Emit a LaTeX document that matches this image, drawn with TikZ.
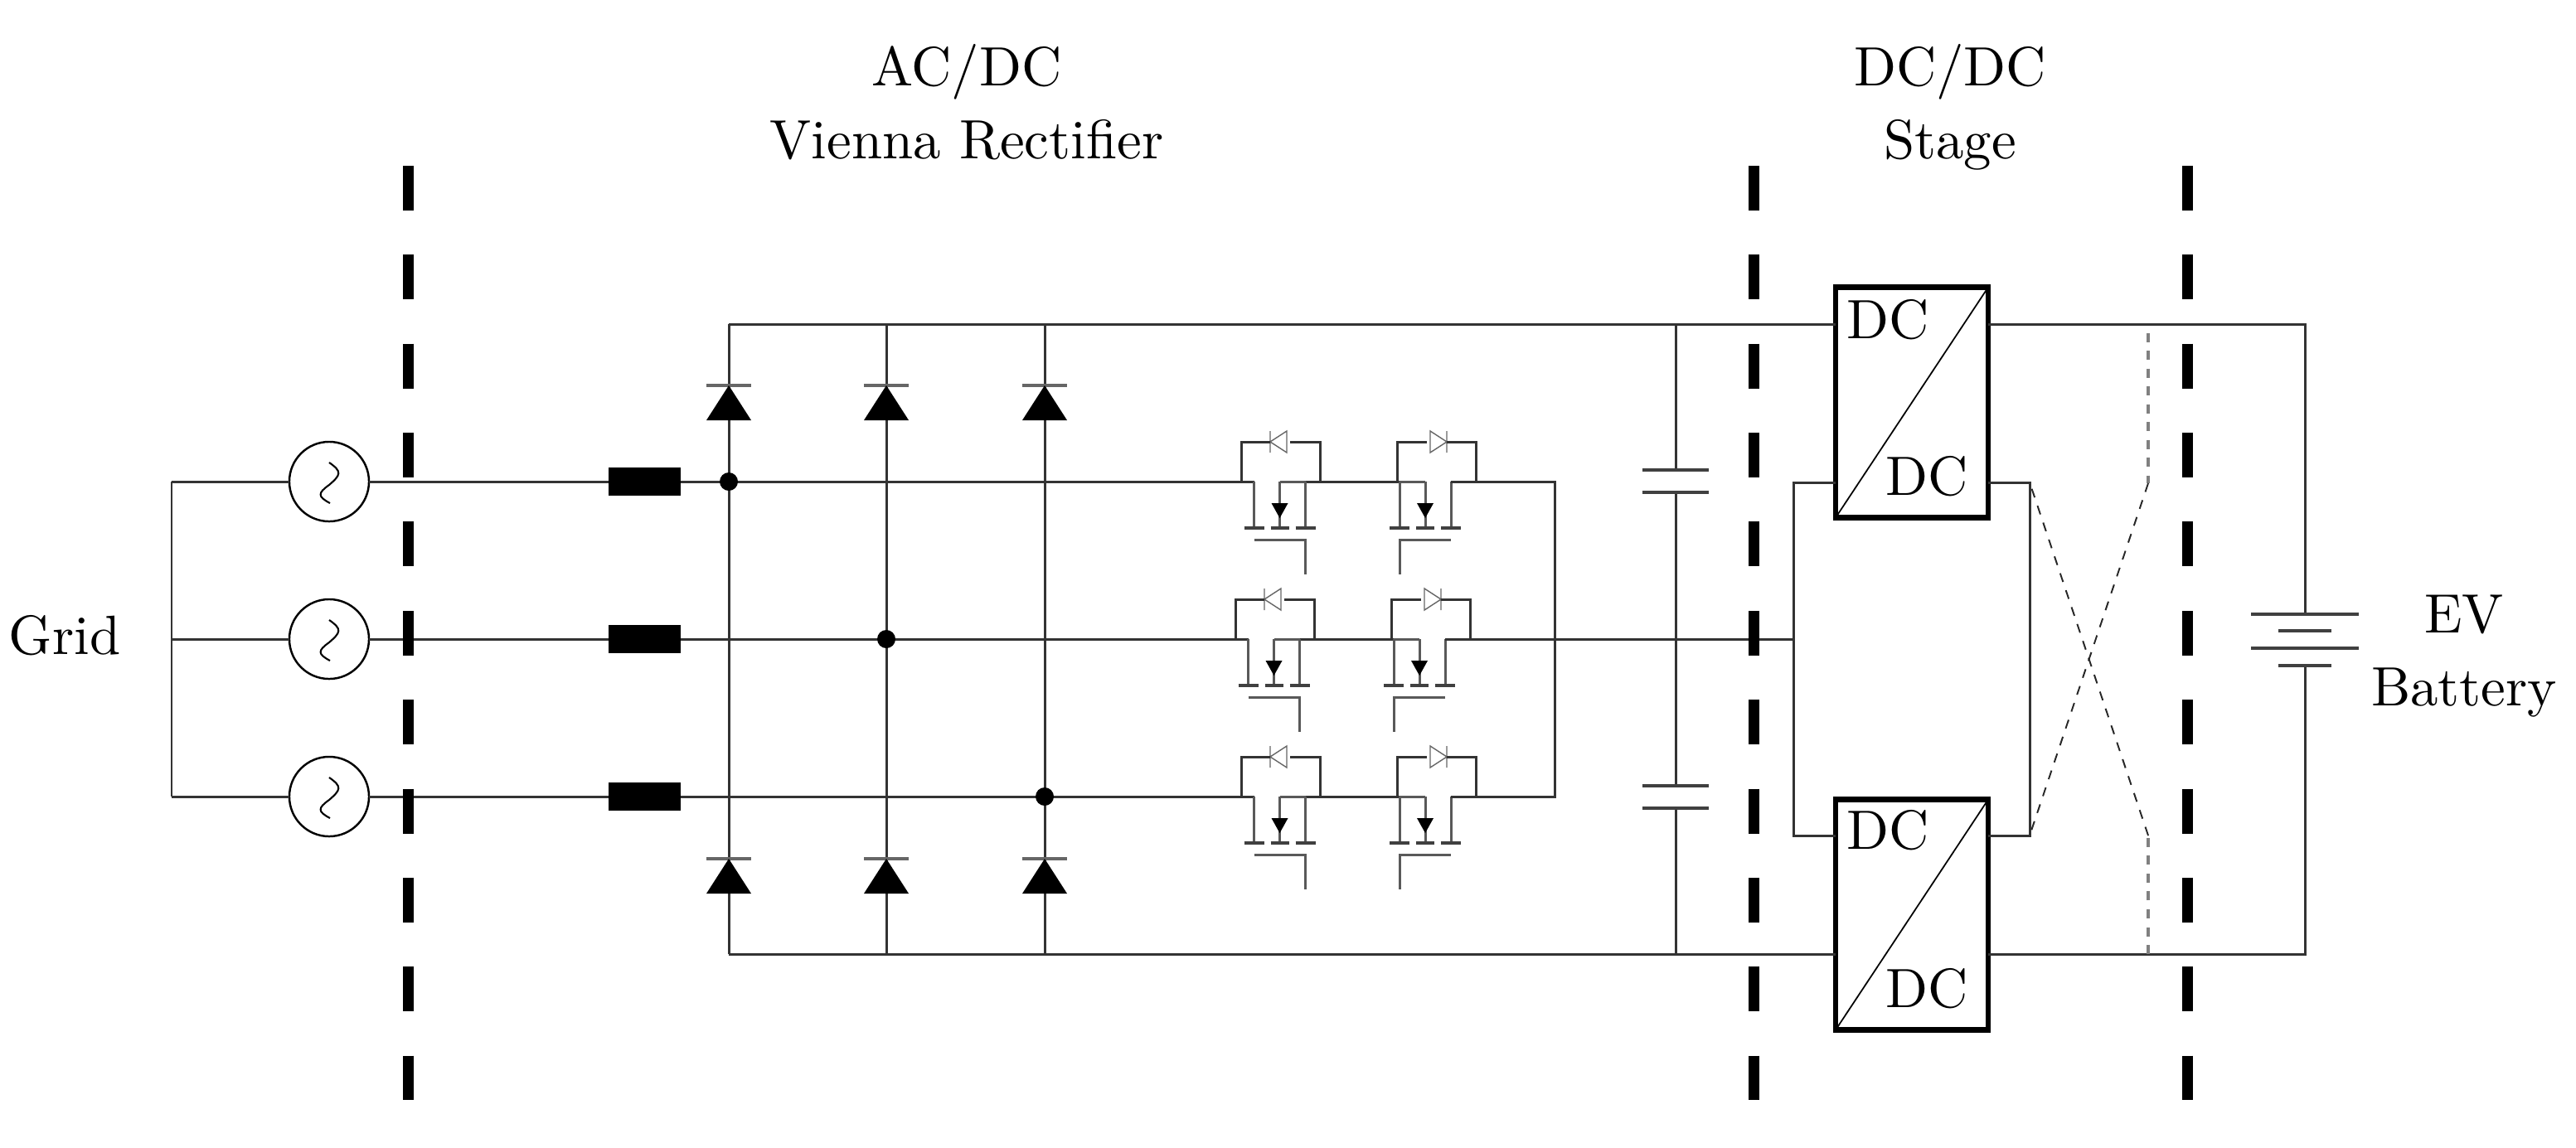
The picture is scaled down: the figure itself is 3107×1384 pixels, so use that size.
\documentclass[tikz,border=0pt]{standalone}
\usepackage{tikz}

\font\capfont="[lmroman10-regular.otf]" at 19pt

\tikzset{
    wire/.style={line width=0.85pt, black!80},
    plate/.style={line width=1.1pt, black!75},
    sepline/.style={line width=3.7pt, dash pattern=on 0.54cm off 0.533cm},
    xline/.style={line width=0.55pt, black!85, dash pattern=on 0.11cm off 0.105cm},
    xlinev/.style={line width=0.95pt, black!50, dash pattern=on 0.11cm off 0.105cm},
    label/.style={font=\fontsize{19}{25}\selectfont\capfont, inner sep=0pt, align=center},
    acsrc/.style={draw, fill=white, circle, line width=0.7pt, minimum size=0.96cm, inner sep=0pt, outer sep=0pt},
    choke/.style={fill=black, minimum width=0.87cm, minimum height=0.34cm, inner sep=0pt, outer sep=0pt},
    joint/.style={fill=black, circle, minimum size=0.22cm, inner sep=0pt},
    dcbox/.style={draw, fill=white, line width=1.85pt, minimum width=1.84cm, minimum height=2.78cm, inner sep=0pt, outer sep=0pt},
    pics/acwave/.style={code={
        \draw[line width=0.6pt] (0,-23) .. controls (16,-12) and (14,-8) .. (0,4)
            .. controls (-14,14) and (-14,18) .. (1,26);
    }},
    pics/railpair/.style={code={
        \draw[line width=1pt, black!60] (-27,0) -- (27,0);
        \fill (-27,42) -- (27,42) -- (0,0) -- cycle;
    }},
    pics/fetbody/.style={code={
        \draw[wire, black!65] (0,0) -- (31,0) (-31,0) -- (-31,56) (31,0) -- (31,56) (0,0) -- (0,56);
        \fill (-10,26) -- (10,26) -- (0,44) -- cycle;
        \draw[plate] (-43,56) -- (-19,56) (-11,56) -- (11,56) (19,56) -- (43,56);
        \draw[wire, black!65] (-31,70) -- (31,70) -- (31,112);
    }},
    pics/fetdiode/.style={code={
        \draw[line width=0.4pt, black!60] (0,-13) -- (0,13) (0,0) -- (20,-13) -- (20,13) -- cycle;
    }},
}

\begin{document}
\begin{tikzpicture}[x=0.01cm, y=-0.01cm]
    \useasboundingbox (0,0) rectangle (3107,1384);

    % Rail points of the rectifier legs
    \foreach \n/\x in {1/879, 2/1069, 3/1260} {
        \coordinate (railT\n) at (\x,391);
        \coordinate (railB\n) at (\x,1151);
        \draw[wire] (railT\n) -- (railB\n);
        \pic at (\x,465) {railpair};
        \pic at (\x,1036) {railpair};
    }

    % DC/DC stage
    \node[dcbox] (dcA) at (2306,485.5) {};
    \node[dcbox] (dcB) at (2306,1103.5) {};
    \draw[line width=0.5pt] (dcA.south west) -- (dcA.north east);
    \draw[line width=0.5pt] (dcB.south west) -- (dcB.north east);
    \node[label, anchor=base] (dcAin) at (2277,408) {DC};
    \node[label, anchor=base] (dcAout) at (2324,597) {DC};
    \node[label, anchor=base] (dcBin) at (2277,1024) {DC};
    \node[label, anchor=base] (dcBout) at (2324,1215) {DC};

    % Battery
    \coordinate (batT) at (2780,741);
    \coordinate (batB) at (2780,803);
    \coordinate (cornerT) at (2780,391);
    \coordinate (cornerB) at (2780,1151);
    \draw[wire] (railT1) -- (dcA.west |- railT1);
    \draw[wire] (dcA.east |- railT1) -- (cornerT) -- (batT);
    \draw[wire] (railB1) -- (dcB.west |- railB1);
    \draw[wire] (dcB.east |- railB1) -- (cornerB) -- (batB);
    \draw[plate] (2715,741) -- (2845,741);
    \draw[plate] (2748,761) -- (2812,761);
    \draw[plate] (2715,782) -- (2845,782);
    \draw[plate] (2748,803) -- (2812,803);

    % Capacitors
    \coordinate (capT) at (2021,391);
    \coordinate (capB) at (2021,1151);
    \draw[wire] (capT) -- (2021,567);
    \draw[wire] (2021,594) -- (2021,948);
    \draw[wire] (2021,975) -- (capB);
    \foreach \y in {567, 594, 948, 975} {
        \draw[plate] (1981,\y) -- (2061,\y);
    }

    % Inner buses of the DC/DC stage
    \coordinate (busLT) at (2163,582);
    \coordinate (busLB) at (2163,1008);
    \coordinate (busRT) at (2448,582);
    \coordinate (busRB) at (2448,1008);
    \draw[wire] (dcA.west |- busLT) -- (busLT) -- (busLB) -- (dcB.west |- busLB);
    \draw[wire] (dcA.east |- busRT) -- (busRT) -- (busRB) -- (dcB.east |- busRB);

    % Crossed output paths
    \coordinate (crossT) at (2591,391);
    \coordinate (crossB) at (2591,1151);
    \coordinate (kneeT) at (2591,583);
    \coordinate (kneeB) at (2591,1008);
    \draw[xlinev, dash phase=0.11cm] (crossT) -- (kneeT);
    \draw[xline] (kneeT) -- (busRB);
    \draw[xlinev] (crossB) -- (kneeB);
    \draw[xline] (kneeB) -- (busRT);

    % Grid phases with sources, chokes and switches
    \coordinate (gridT) at (207,581);
    \coordinate (gridB) at (207,961);
    \draw[wire] (gridT) -- (gridB);
    \foreach \i/\rowy/\dx/\x in {1/581/0/879, 2/771/-7/1069, 3/961/0/1260} {
        \coordinate (grid\i) at (207,\rowy);
        \node[acsrc] (src\i) at (397,\rowy) {};
        \pic at (src\i) {acwave};
        \node[choke] (ind\i) at (777.5,\rowy) {};
        \coordinate (fetL\i) at (1512.5+\dx,\rowy);
        \coordinate (fetM\i) at (1574.5+\dx,\rowy);
        \coordinate (fetN\i) at (1688+\dx,\rowy);
        \draw[wire] (grid\i) -- (src\i);
        \draw[wire] (src\i) -- (ind\i);
        \draw[wire] (ind\i) -- (fetL\i);
        \draw[wire] (fetM\i) -- (fetN\i);
        \node[joint] (dot\i) at (\x,\rowy) {};

        % Switch pair of this phase
        \begin{scope}[shift={(\dx,\rowy)}]
            \pic at (1543.5,0) {fetbody};
            \pic[xscale=-1] at (1719,0) {fetbody};
            \pic at (1532,-48) {fetdiode};
            \pic[xscale=-1] at (1745,-48) {fetdiode};
            \draw[wire] (1497,0) -- (1497,-48) -- (1532,-48);
            \draw[wire] (1556,-48) -- (1592,-48) -- (1592,0);
            \draw[wire] (1685,0) -- (1685,-48) -- (1721,-48);
            \draw[wire] (1745,-48) -- (1780,-48) -- (1780,0);
        \end{scope}
    }

    % Switch outputs
    \coordinate (midT) at (1875,581);
    \coordinate (midB) at (1875,961);
    \draw[wire] (1750,581) -- (midT) -- (midB) -- (1750,961);
    \draw[wire] (1743,771) -- (2163,771);

    % Stage borders
    \foreach \x in {492, 2115, 2638} {
        \draw[sepline] (\x,200) -- (\x,1327);
    }

    % Labels
    \node[label, anchor=base] (lbgrid) at (78,789) {Grid};
    \node[label, anchor=north] (lbacdc) at (1166,53) {AC/DC\\Vienna Rectifier};
    \node[label, anchor=north] (lbdcdc) at (2352,53) {DC/DC\\Stage};
    \node[label, anchor=north] (lbbat) at (2972,717) {EV\\Battery};
\end{tikzpicture}
\end{document}
